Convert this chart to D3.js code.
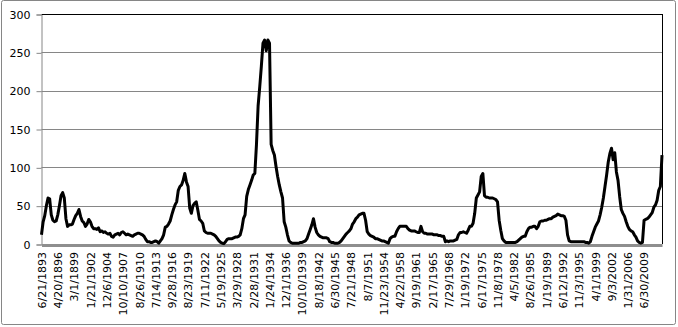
<!DOCTYPE html>
<html>
<head>
<meta charset="utf-8">
<script src="https://cdnjs.cloudflare.com/ajax/libs/d3/7.8.5/d3.min.js"></script>
<style>
	body { margin: 0; background: #fff; }
	svg text { font-family: "DejaVu Sans", Verdana, sans-serif; font-size: 11px; fill: #000; }
</style>
</head>
<body>
<div id="chart"></div>
<script>
// category labels, one every 10 observations
var labels = [
	'6/21/1893', '4/20/1896', '3/1/1899', '1/21/1902', '12/6/1904', '10/10/1907',
	'8/26/1910', '7/14/1913', '9/28/1916', '8/23/1919', '7/11/1922', '5/19/1925',
	'3/29/1928', '2/28/1931', '1/24/1934', '12/1/1936', '10/10/1939', '8/18/1942',
	'6/30/1945', '7/21/1948', '8/7/1951', '11/23/1954', '4/22/1958', '9/19/1961',
	'2/17/1965', '7/29/1968', '1/19/1972', '6/17/1975', '11/8/1978', '4/5/1982',
	'8/26/1985', '1/19/1989', '6/12/1992', '11/3/1995', '4/1/1999', '9/3/2002',
	'1/31/2006', '6/30/2009'
];

// series values
var values = [
	12, 29, 37, 50, 60, 59, 38, 31, 29, 30,
	38, 50, 63, 67, 60, 33, 23, 25, 25, 26,
	32, 37, 40, 45, 36, 30, 28, 23, 26, 32,
	29, 23, 20, 20, 19, 21, 16, 17, 15, 16,
	14, 13, 14, 10, 9, 12, 13, 14, 12, 15,
	16, 14, 12, 13, 12, 11, 10, 12, 13, 14,
	14, 13, 12, 10, 6, 3, 3, 2, 2, 3,
	4, 3, 1, 4, 7, 12, 22, 23, 26, 30,
	38, 45, 51, 55, 70, 75, 77, 83, 92, 81,
	75, 47, 40, 50, 53, 55, 44, 32, 30, 27,
	17, 15, 14, 14, 14, 13, 12, 10, 7, 4,
	2, 1, 0.5, 3, 6, 7, 7, 7, 8, 9,
	9, 10, 12, 20, 33, 38, 62, 71, 77, 83,
	90, 92, 130, 180, 205, 232, 262, 266, 252, 266,
	262, 130, 122, 116, 101, 88, 77, 68, 60, 29,
	22, 12, 4, 2, 1, 1, 1, 1, 1, 2,
	2, 3, 4, 7, 13, 19, 25, 33, 22, 15,
	12, 10, 9, 8, 8, 8, 7, 3, 2, 2,
	1, 1, 1, 2, 4, 7, 10, 13, 15, 17,
	20, 26, 29, 33, 35, 38, 39, 40, 40, 31,
	16, 13, 11, 10, 9, 7, 7, 6, 5, 4,
	4, 3, 2, 1, 7, 9, 10, 10, 16, 20,
	23, 23, 23, 23, 23, 20, 18, 17, 17, 17,
	16, 15, 15, 23, 16, 14, 14, 13, 13, 13,
	13, 12, 12, 12, 11, 11, 10, 10, 3, 4,
	3, 4, 4, 4, 5, 6, 12, 15, 15, 16,
	15, 14, 18, 23, 23, 27, 40, 60, 64, 68,
	88, 92, 63, 61, 61, 60, 60, 60, 59, 58,
	55, 31, 18, 7, 4, 2, 2, 2, 2, 2,
	2, 2, 3, 5, 7, 9, 10, 10, 16, 20,
	22, 22, 23, 23, 20, 23, 29, 30, 30, 31,
	31, 32, 33, 33, 35, 36, 37, 39, 38, 37,
	37, 36, 31, 12, 4, 3, 3, 3, 3, 3,
	3, 3, 3, 3, 2, 2, 1, 3, 10, 16,
	22, 26, 30, 38, 48, 60, 75, 90, 107, 118,
	125, 110, 119, 94, 83, 62, 45, 40, 36, 29,
	23, 19, 17, 16, 12, 9, 4, 2, 1, 2,
	31, 32, 33, 35, 38, 41, 48, 51, 57, 70,
	75, 116
];

var yTicks = [0, 50, 100, 150, 200, 250, 300];
var labelStep = 10;

var width  = 678,
	height = 327,
	plot   = {left: 41.5, right: 662.5, top: 14, bottom: 244};

var svg = d3.select('#chart').append('svg')
	.attr('width', width)
	.attr('height', height);

// chart frame
svg.append('rect')
	.attr('x', 1.5).attr('y', 0.5)
	.attr('width', 674).attr('height', 324)
	.attr('rx', 2)
	.attr('fill', '#fff')
	.attr('stroke', '#868686');

var x = d3.scaleLinear()
	.domain([0, values.length - 1])
	.range([plot.left, plot.right - 0.5]);

var y = d3.scaleLinear()
	.domain([0, 300])
	.range([plot.bottom, plot.top]);

// horizontal gridlines
svg.append('g')
	.selectAll('line')
	.data(yTicks.filter(function(d) { return d > 0; }))
	.enter().append('line')
		.attr('x1', plot.left).attr('x2', plot.right)
		.attr('y1', function(d) { return Math.round(y(d)) + 0.5; })
		.attr('y2', function(d) { return Math.round(y(d)) + 0.5; })
		.attr('stroke', function(d) { return d === 300 ? '#000' : '#868686'; });

// right border of the plot area
svg.append('line')
	.attr('x1', plot.right).attr('x2', plot.right)
	.attr('y1', y(300)).attr('y2', plot.bottom)
	.attr('stroke', '#000');

// value axis
var yAxis = d3.axisLeft(y)
	.tickValues(yTicks)
	.tickSize(5)
	.tickPadding(6);

var gy = svg.append('g')
	.attr('transform', 'translate(' + plot.left + ',0.5)')
	.call(yAxis);
gy.select('.domain').attr('stroke', '#868686');
gy.selectAll('.tick line').attr('stroke', '#868686');
gy.selectAll('.tick text').attr('fill', '#000').style('font-size', '11px').style('font-family', '"DejaVu Sans", Verdana, sans-serif');

// category axis
var xAxis = d3.axisBottom(x)
	.tickValues(d3.range(0, labels.length * labelStep, labelStep))
	.tickFormat(function(d) { return labels[d / labelStep]; })
	.tickSize(0)
	.tickSizeOuter(0);

var gx = svg.append('g')
	.attr('transform', 'translate(0,' + (plot.bottom + 1) + ')')
	.call(xAxis);
gx.select('.domain')
	.attr('stroke', '#8e8e8e')
	.attr('stroke-width', 3);
gx.selectAll('.tick text')
	.attr('transform', 'rotate(-90)')
	.attr('x', -7)
	.attr('y', 0)
	.attr('dy', '0.35em')
	.attr('fill', '#000')
	.style('text-anchor', 'end')
	.style('font-size', '11px')
	.style('font-family', '"DejaVu Sans", Verdana, sans-serif');

// series line
var line = d3.line()
	.x(function(d, i) { return x(i); })
	.y(function(d) { return y(d); });

svg.append('path')
	.datum(values)
	.attr('fill', 'none')
	.attr('stroke', '#000')
	.attr('stroke-width', 3)
	.attr('stroke-linejoin', 'round')
	.attr('d', line);
</script>
</body>
</html>
